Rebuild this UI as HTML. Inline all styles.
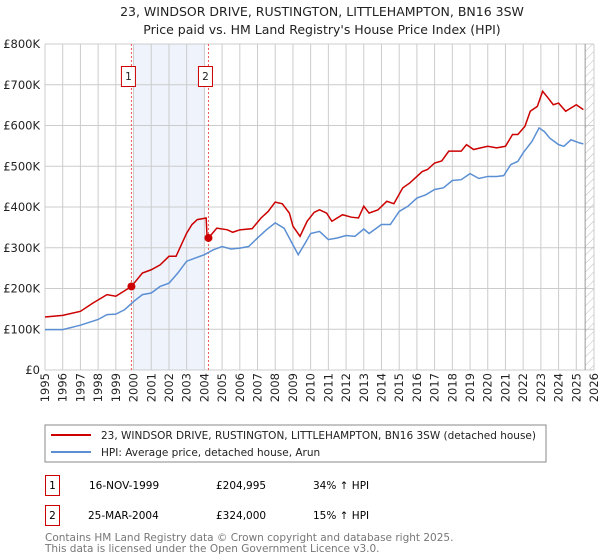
<!DOCTYPE html>
<html><head><meta charset="utf-8"><style>
body{margin:0;background:#fff;font-family:"Liberation Sans","DejaVu Sans",sans-serif}
#wrap{position:relative;width:600px;height:560px;overflow:hidden}
text{font-family:"DejaVu Sans","Liberation Sans",sans-serif}
</style></head><body><div id="wrap">
<svg id="svg" width="600" height="560" xmlns="http://www.w3.org/2000/svg">
<text x="322" y="16" text-anchor="middle" font-size="12.5" fill="#222">23, WINDSOR DRIVE, RUSTINGTON, LITTLEHAMPTON, BN16 3SW</text>
<text x="322" y="34" text-anchor="middle" font-size="12.5" fill="#222">Price paid vs. HM Land Registry's House Price Index (HPI)</text>
<g id="plot"></g>
<rect x="45" y="425" width="501" height="37" fill="#fff" stroke="#888"/>
<line x1="51" y1="435" x2="91" y2="435" stroke="#cc0000" stroke-width="2"/>
<text x="101" y="439" font-size="10.5" fill="#222">23, WINDSOR DRIVE, RUSTINGTON, LITTLEHAMPTON, BN16 3SW (detached house)</text>
<line x1="51" y1="452" x2="91" y2="452" stroke="#5b8fd4" stroke-width="2"/>
<text x="101" y="456" font-size="10.5" fill="#222">HPI: Average price, detached house, Arun</text>
<g>
<rect x="45.5" y="475.5" width="14" height="20" fill="#fff" stroke="#cc0000"/><text x="52.5" y="489" text-anchor="middle" font-size="10.5">1</text>
<text x="89" y="489" font-size="10.5">16-NOV-1999</text><text x="216" y="489" font-size="10.5">£204,995</text><text x="313" y="489" font-size="10.5">34% ↑ HPI</text></g>
<g>
<rect x="45.5" y="505.5" width="14" height="20" fill="#fff" stroke="#cc0000"/><text x="52.5" y="519" text-anchor="middle" font-size="10.5">2</text>
<text x="88" y="519" font-size="10.5">25-MAR-2004</text><text x="216" y="519" font-size="10.5">£324,000</text><text x="313" y="519" font-size="10.5">15% ↑ HPI</text></g>
<text x="45" y="541" font-size="10.5" fill="#777">Contains HM Land Registry data © Crown copyright and database right 2025.</text>
<text x="45" y="552" font-size="10.5" fill="#777">This data is licensed under the Open Government Licence v3.0.</text>
</svg></div>
<script>
const hpiT=[1995,1996,1997,1998,1998.5,1999,1999.5,2000,2000.5,2001,2001.5,2002,2002.5,2003,2003.5,2004,2004.5,2005,2005.5,2006,2006.5,2007,2007.5,2008,2008.5,2009,2009.3,2009.7,2010,2010.5,2011,2011.5,2012,2012.5,2013,2013.3,2014,2014.5,2015,2015.5,2016,2016.5,2017,2017.5,2018,2018.5,2019,2019.5,2020,2020.5,2020.9,2021.3,2021.7,2022,2022.5,2022.9,2023.2,2023.5,2024,2024.3,2024.7,2025.2,2025.4];
const hpiV=[99,99,110,124,136,137,148,168,185,189,205,213,238,267,275,283,295,303,297,299,303,324,344,361,348,307,283,312,335,340,320,324,330,328,346,335,357,357,389,402,422,430,443,447,465,467,482,470,475,475,477,504,512,533,561,594,585,569,553,549,565,557,555];
const prT=[1995,1996,1997,1997.7,1998.5,1999,1999.88,2000.5,2001,2001.5,2002,2002.4,2003,2003.3,2003.6,2004.1,2004.15,2004.23,2004.7,2005.3,2005.6,2006,2006.7,2007.2,2007.6,2008,2008.4,2008.8,2009,2009.4,2009.8,2010.2,2010.5,2010.9,2011.2,2011.8,2012.3,2012.7,2013,2013.3,2013.8,2014.3,2014.7,2015.2,2015.6,2016.3,2016.6,2017,2017.4,2017.8,2018.5,2018.8,2019.2,2019.6,2020,2020.5,2021,2021.4,2021.7,2022.1,2022.4,2022.8,2023.1,2023.4,2023.7,2024,2024.4,2024.7,2025,2025.4];
const prV=[130,134,144,164,185,181,205,238,246,258,279,279,336,357,369,373,328,324,348,344,338,344,347,373,389,412,408,385,353,328,365,387,393,385,365,381,375,373,402,385,393,414,408,447,459,487,492,508,513,537,537,553,541,545,549,545,549,578,578,598,635,647,684,668,651,655,635,643,651,639];
const saleT=[1999.88,2004.23];
const saleV=[204.995,324];
const saleLabels=["1","2"];
const yTicks=[0,100,200,300,400,500,600,700,800];
const yTickLabels=["£0","£100K","£200K","£300K","£400K","£500K","£600K","£700K","£800K"];
const xYears=[1995,1996,1997,1998,1999,2000,2001,2002,2003,2004,2005,2006,2007,2008,2009,2010,2011,2012,2013,2014,2015,2016,2017,2018,2019,2020,2021,2022,2023,2024,2025,2026];
const X=t=>45+(t-1995)*(594-45)/31, Y=v=>370-v*326/800;
const NS="http://www.w3.org/2000/svg", g=document.getElementById('plot');
function mk(tag,a){const e=document.createElementNS(NS,tag);for(const k in a)e.setAttribute(k,a[k]);g.appendChild(e);return e;}
let e;
e=mk('rect',{x:45,y:44,width:549,height:326,fill:'#fff'});


e=mk('rect',{x:X(2000),y:44,width:X(2004.05)-X(2000),height:326,fill:'#eef3fc'});


xYears.forEach(y=>{e=mk('line',{x1:X(y),x2:X(y),y1:44,y2:370,stroke:'#cccccc'});


e=mk('text',{x:0,y:0,'font-size':11.5,fill:'#222','text-anchor':'end',transform:`translate(${X(y)+4},373) rotate(-90)`});e.textContent=y;

});
yTicks.forEach((v,i)=>{e=mk('line',{x1:45,x2:594,y1:Y(v),y2:Y(v),stroke:'#cccccc'});


e=mk('text',{x:40,y:Y(v)+4,'font-size':11.5,fill:'#222','text-anchor':'end'});e.textContent=yTickLabels[i];

});
const defs=document.createElementNS(NS,'defs');defs.innerHTML='<pattern id="h" width="6" height="6" patternUnits="userSpaceOnUse" patternTransform="rotate(45)"><line x1="0" y1="0" x2="0" y2="6" stroke="#bbb"/></pattern>';g.appendChild(defs);
e=mk('rect',{x:X(2025.5),y:44,width:594-X(2025.5),height:326,fill:'url(#h)'});


e=mk('line',{x1:X(2025.5),x2:X(2025.5),y1:44,y2:370,stroke:'#999'});


saleT.forEach((t,i)=>{e=mk('line',{x1:X(t),x2:X(t),y1:44,y2:370,stroke:'#ee5555','stroke-dasharray':'2,2'});


e=mk('rect',{x:X(t)-10,y:66.5,width:14,height:20,fill:'#fff',stroke:'#cc0000'});


e=mk('text',{x:X(t)-3,y:80,'font-size':10.5,'text-anchor':'middle',fill:'#222'});e.textContent=saleLabels[i];

});
e=mk('polyline',{points:hpiT.map((t,i)=>X(t)+','+Y(hpiV[i])).join(' '),fill:'none',stroke:'#5b8fd4','stroke-width':1.5});


e=mk('polyline',{points:prT.map((t,i)=>X(t)+','+Y(prV[i])).join(' '),fill:'none',stroke:'#cc0000','stroke-width':1.5});


saleT.forEach((t,i)=>{e=mk('circle',{cx:X(t),cy:Y(saleV[i]),r:4,fill:'#cc0000'});

});
</script></body></html>
